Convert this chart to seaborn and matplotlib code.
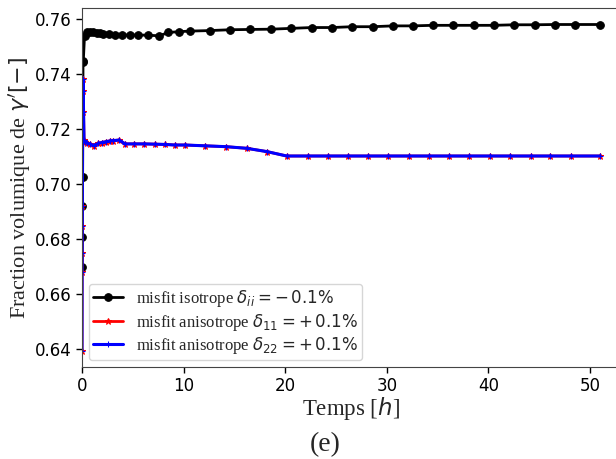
import numpy as np
import matplotlib
matplotlib.use('Agg')
import matplotlib.pyplot as plt
import seaborn as sns

# temps [h] et fraction volumique de gamma'
t_iso = [0.0, 0.02, 0.04, 0.06, 0.10, 0.13, 0.25, 0.5, 0.8, 1.1, 1.45, 1.8, 2.1,
         2.7, 3.25, 3.9, 4.7, 5.5, 6.5, 7.6, 8.5, 9.55, 10.6, 12.6, 14.6, 16.5,
         18.6, 20.6, 22.6, 24.6, 26.6, 28.6, 30.6, 32.55, 34.5, 36.55, 38.55,
         40.5, 42.5, 44.55, 46.55, 48.5, 51.0]
frac_iso = [0.670, 0.681, 0.692, 0.7025, 0.7445, 0.7450, 0.7540, 0.7552, 0.7553,
            0.7552, 0.7550, 0.7549, 0.7548, 0.7547, 0.7544, 0.7543, 0.7543,
            0.7543, 0.7542, 0.7540, 0.7552, 0.7555, 0.7557, 0.7559, 0.7562,
            0.7563, 0.7564, 0.7567, 0.7570, 0.7570, 0.7573, 0.7573, 0.7576,
            0.7576, 0.7578, 0.7578, 0.7578, 0.7578, 0.7580, 0.7580, 0.7581,
            0.7581, 0.7581]

t_aniso = [0.0, 0.01, 0.02, 0.03, 0.04, 0.06, 0.08, 0.10, 0.2, 0.3, 0.52, 0.79,
           1.18, 1.6, 1.94, 2.36, 2.76, 3.08, 3.67, 4.23, 5.12, 6.13, 7.19, 8.17,
           9.15, 10.14, 12.1, 14.14, 16.2, 18.2, 20.15, 22.2, 24.2, 26.15, 28.15,
           30.15, 32.2, 34.15, 36.15, 38.1, 40.15, 42.15, 44.15, 46.1, 48.1, 51.0]
frac_d11 = [0.6395, 0.668, 0.675, 0.685, 0.692, 0.7264, 0.7339, 0.7382, 0.7160,
            0.7155, 0.7149, 0.7147, 0.7141, 0.7149, 0.7152, 0.7155, 0.7158,
            0.7159, 0.7161, 0.7147, 0.7147, 0.7147, 0.7146, 0.7145, 0.7143,
            0.7143, 0.7140, 0.7137, 0.7131, 0.7119, 0.7103, 0.7103, 0.7103,
            0.7103, 0.7103, 0.7103, 0.7103, 0.7103, 0.7103, 0.7103, 0.7103,
            0.7103, 0.7103, 0.7103, 0.7103, 0.7103]
frac_d22 = list(frac_d11)

labels = [r'misfit isotrope $\delta_{ii} = -\,0.1\%$',
          r'misfit anisotrope $\delta_{11} = +\,0.1\%$',
          r'misfit anisotrope $\delta_{22} = +\,0.1\%$']

sns.set_style('ticks')
plt.rcParams['font.family'] = ['Liberation Serif', 'DejaVu Serif']
plt.rcParams['mathtext.fontset'] = 'dejavusans'

fig = plt.figure(figsize=(6.16, 4.59), dpi=100)
ax = fig.add_axes([82 / 616, 1 - 367 / 459, 538 / 616, 359 / 459])

sns.lineplot(x=t_iso, y=frac_iso, ax=ax, color='black', marker='o',
             markersize=5.5, markeredgecolor='black', linewidth=2,
             estimator=None, sort=False, label=labels[0])
sns.lineplot(x=t_aniso, y=frac_d11, ax=ax, color='red', marker='*',
             markersize=5, markeredgecolor='red', linewidth=2,
             estimator=None, sort=False, label=labels[1])
sns.lineplot(x=t_aniso, y=frac_d22, ax=ax, color='blue', marker='+',
             markersize=5, markeredgecolor='blue', linewidth=2.2,
             estimator=None, sort=False, label=labels[2])

ax.set_xlim(0, 52.95)
ax.set_ylim(0.6336, 0.7641)
ax.set_xticks([0, 10, 20, 30, 40, 50])
ax.set_yticks([0.64, 0.66, 0.68, 0.70, 0.72, 0.74, 0.76])
ax.set_yticklabels([f'{v:.2f}' for v in ax.get_yticks()])
ax.set_xticklabels([str(v) for v in [0, 10, 20, 30, 40, 50]])
for lab in ax.get_xticklabels() + ax.get_yticklabels():
    lab.set_family('DejaVu Sans')
    lab.set_fontsize(12)
ax.tick_params(direction='out', length=4, width=1, colors='black')
for sp in ax.spines.values():
    sp.set_color('#444444')

ax.set_xlabel(r'Temps [$h$]', fontsize=16.5, labelpad=0)
ax.set_ylabel(r"Fraction volumique de $\gamma'[-]$", fontsize=16, labelpad=1)

ax.legend(loc='lower left', fontsize=12, handlelength=1.8, labelspacing=0.15,
          borderpad=0.25, borderaxespad=0.4, framealpha=0.8)

fig.text(325 / 616, 1 - 445 / 459, '(e)', fontsize=20, ha='center', va='center')

fig.savefig('out.png', dpi=100)
